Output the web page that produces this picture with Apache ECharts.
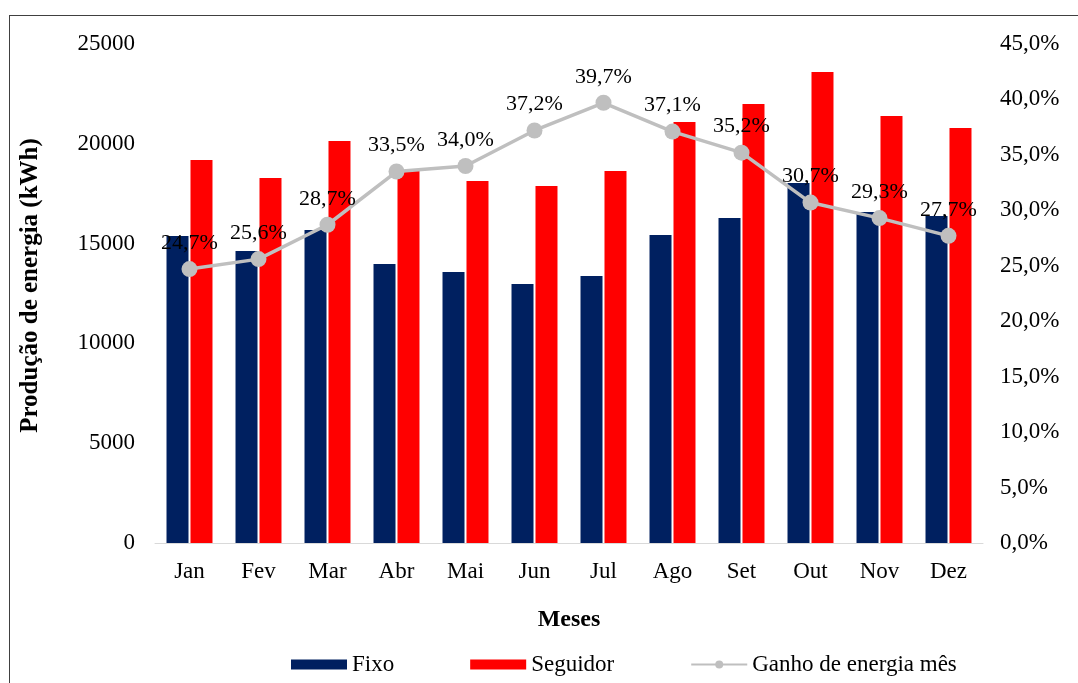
<!DOCTYPE html>
<html>
<head>
<meta charset="utf-8">
<script src="https://cdn.jsdelivr.net/npm/echarts@6/dist/echarts.min.js"></script>
<style>
  html, body { margin: 0; padding: 0; background: #fff; }
  #frame { position: absolute; left: 9px; top: 15px; width: 1069px; height: 668px;
           border-top: 1.5px solid #404040; border-left: 1.5px solid #404040; box-sizing: border-box; }
  #chart { position: absolute; left: 0; top: 0; width: 1078px; height: 683px; }
</style>
</head>
<body>
<div id="frame"></div>
<div id="chart"></div>
<script>
// meses e valores
const meses = ['Jan', 'Fev', 'Mar', 'Abr', 'Mai', 'Jun', 'Jul', 'Ago', 'Set', 'Out', 'Nov', 'Dez'];
const fixo = [15380, 14630, 15680, 13980, 13580, 12980, 13380, 15430, 16280, 18040, 16580, 16380];
const seguidor = [19190, 18290, 20140, 18690, 18140, 17890, 18640, 21090, 21990, 23600, 21390, 20790];
const ganho = [24.7, 25.6, 28.7, 33.5, 34.0, 37.2, 39.7, 37.1, 35.2, 30.7, 29.3, 27.7];

const serif = '"Liberation Serif", "Times New Roman", serif';
const fmtPct = v => v.toFixed(1).replace('.', ',') + '%';

const chart = echarts.init(document.getElementById('chart'));

chart.setOption({
  backgroundColor: 'transparent',
  textStyle: { fontFamily: serif, color: '#000' },
  animation: false,
  grid: { left: 155, right: 95, top: 44, bottom: 140 },
  legend: {
    top: 648,
    left: 286,
    itemWidth: 56,
    itemHeight: 10,
    itemGap: 76,
    textStyle: { fontFamily: serif, fontSize: 23, color: '#000' },
    data: [
      { name: 'Fixo', icon: 'rect' },
      { name: 'Seguidor', icon: 'rect' },
      { name: 'Ganho de energia mês' }
    ]
  },
  xAxis: {
    type: 'category',
    data: meses,
    name: 'Meses',
    nameLocation: 'middle',
    nameGap: 65,
    nameTextStyle: { fontFamily: serif, fontSize: 24, fontWeight: 'bold', color: '#000' },
    axisLine: { lineStyle: { color: '#D9D9D9', width: 1 } },
    axisTick: { show: false },
    axisLabel: { fontFamily: serif, fontSize: 23, color: '#000', margin: 17 }
  },
  yAxis: [
    {
      type: 'value',
      min: 0, max: 25000, interval: 5000,
      name: 'Produção de energia (kWh)',
      nameLocation: 'middle',
      nameRotate: 90,
      nameGap: 112,
      nameTextStyle: { fontFamily: serif, fontSize: 25, fontWeight: 'bold', color: '#000', padding: [0, 0, 0, 16] },
      axisLine: { show: false },
      axisTick: { show: false },
      splitLine: { show: false },
      axisLabel: { fontFamily: serif, fontSize: 23, color: '#000', margin: 20, formatter: v => String(v) }
    },
    {
      type: 'value',
      min: 0, max: 45, interval: 5,
      axisLine: { show: false },
      axisTick: { show: false },
      splitLine: { show: false },
      axisLabel: { fontFamily: serif, fontSize: 23, color: '#000', margin: 17, formatter: fmtPct }
    }
  ],
  series: [
    {
      name: 'Fixo',
      type: 'bar',
      data: fixo,
      barWidth: 22,
      barGap: '9%',
      itemStyle: { color: '#002060' }
    },
    {
      name: 'Seguidor',
      type: 'bar',
      data: seguidor,
      barWidth: 22,
      barGap: '9%',
      itemStyle: { color: '#FF0000' }
    },
    {
      name: 'Ganho de energia mês',
      type: 'line',
      yAxisIndex: 1,
      data: ganho,
      symbol: 'circle',
      symbolSize: 16,
      itemStyle: { color: '#BFBFBF' },
      lineStyle: { color: '#BFBFBF', width: 3.5 },
      label: {
        show: true,
        position: 'top',
        distance: 7,
        fontFamily: serif,
        fontSize: 22,
        color: '#000',
        formatter: p => fmtPct(p.value)
      },
      z: 5
    }
  ]
});
</script>
</body>
</html>
